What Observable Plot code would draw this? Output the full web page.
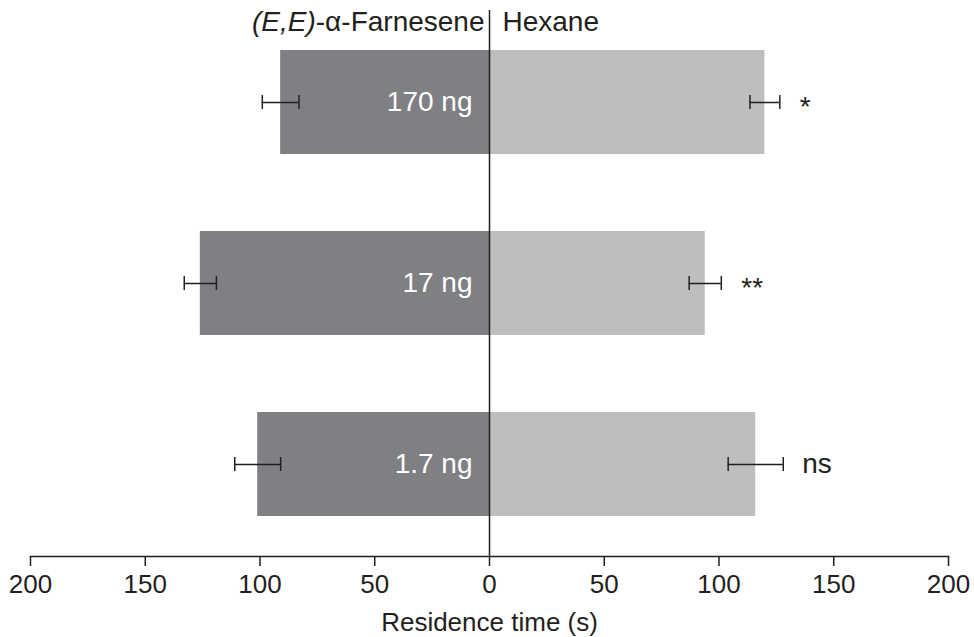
<!DOCTYPE html>
<html>
<head>
<meta charset="utf-8">
<script src="https://cdn.jsdelivr.net/npm/d3@7"></script>
<script src="https://cdn.jsdelivr.net/npm/@observablehq/plot@0.6"></script>
<style>
  html, body { margin: 0; padding: 0; background: white; }
</style>
</head>
<body>
<div id="chart"></div>
<script>
const doses = ["170 ng", "17 ng", "1.7 ng"];
const farnesene = [91, 126, 101];
const farneseneErr = [8, 7, 10];
const hexane = [120, 94, 116];
const hexaneErr = [6.5, 7, 12];
const sig = ["*", "**", "ns"];
const xTicks = [-200, -150, -100, -50, 0, 50, 100, 150, 200];
const leftTitle = "(E,E)-α-Farnesene";
const rightTitle = "Hexane";
const xLabel = "Residence time (s)";

const rows = doses.map((d, i) => ({
  dose: d, f: -farnesene[i], fe: farneseneErr[i],
  h: hexane[i], he: hexaneErr[i], sig: sig[i]
}));
const starRows = rows.filter(d => d.sig.startsWith("*"));
const otherRows = rows.filter(d => !d.sig.startsWith("*"));

const ink = "#231f20";

const svg = Plot.plot({
  width: 974, height: 637,
  marginLeft: 30, marginRight: 26, marginTop: 10, marginBottom: 81,
  style: { fontFamily: "Liberation Sans, Arial, sans-serif", fontSize: "26px", color: ink, background: "white" },
  x: { domain: [-200, 200] },
  y: { domain: doses, paddingInner: 0.427, paddingOuter: 0.218, axis: null },
  marks: [
    Plot.barX(rows, { x1: 0, x2: "f", y: "dose", fill: "#7f8083" }),
    Plot.barX(rows, { x1: 0, x2: "h", y: "dose", fill: "#bdbec0" }),
    Plot.ruleY(rows, { y: "dose", x1: d => d.f - d.fe, x2: d => d.f + d.fe, stroke: ink, strokeWidth: 1.5 }),
    Plot.tickX(rows, { y: "dose", x: d => d.f - d.fe, insetTop: 45, insetBottom: 45, stroke: ink, strokeWidth: 1.5 }),
    Plot.tickX(rows, { y: "dose", x: d => d.f + d.fe, insetTop: 45, insetBottom: 45, stroke: ink, strokeWidth: 1.5 }),
    Plot.ruleY(rows, { y: "dose", x1: d => d.h - d.he, x2: d => d.h + d.he, stroke: ink, strokeWidth: 1.5 }),
    Plot.tickX(rows, { y: "dose", x: d => d.h - d.he, insetTop: 45, insetBottom: 45, stroke: ink, strokeWidth: 1.5 }),
    Plot.tickX(rows, { y: "dose", x: d => d.h + d.he, insetTop: 45, insetBottom: 45, stroke: ink, strokeWidth: 1.5 }),
    Plot.ruleX([0], { stroke: ink, strokeWidth: 1.5 }),
    Plot.frame({ anchor: "bottom", stroke: ink, strokeWidth: 1.5 }),
    Plot.axisX({ ticks: xTicks, tickFormat: d => Math.abs(d), tickSize: 10, tickPadding: 8, label: null, fontSize: 26, stroke: ink, strokeWidth: 1.5 }),
    Plot.text(rows, { x: 0, y: "dose", text: "dose", dx: -17, textAnchor: "end", fill: "white", fontSize: 28 }),
    Plot.text(starRows, { x: d => d.h + d.he, y: "dose", text: "sig", dx: 20, dy: 5, textAnchor: "start", fill: ink, fontSize: 28 }),
    Plot.text(otherRows, { x: d => d.h + d.he, y: "dose", text: "sig", dx: 19, textAnchor: "start", fill: ink, fontSize: 28 }),
    Plot.text([leftTitle], { x: 0, frameAnchor: "top", lineAnchor: "middle", dx: -5, dy: 12, textAnchor: "end", fill: ink, fontSize: 28 }),
    Plot.text([rightTitle], { x: 0, frameAnchor: "top", lineAnchor: "middle", dx: 13, dy: 12, textAnchor: "start", fill: ink, fontSize: 28 }),
    Plot.text([xLabel], { frameAnchor: "bottom", lineAnchor: "middle", dy: 66, fill: ink, fontSize: 26 })
  ]
});

d3.select(svg).selectAll("text").filter(function () { return this.textContent === leftTitle; })
  .each(function () {
    const t = d3.select(this);
    t.text("");
    t.append("tspan").attr("font-style", "italic").text("(E,E)");
    t.append("tspan").text("-α-Farnesene");
  });

document.getElementById("chart").appendChild(svg);
</script>
</body>
</html>
